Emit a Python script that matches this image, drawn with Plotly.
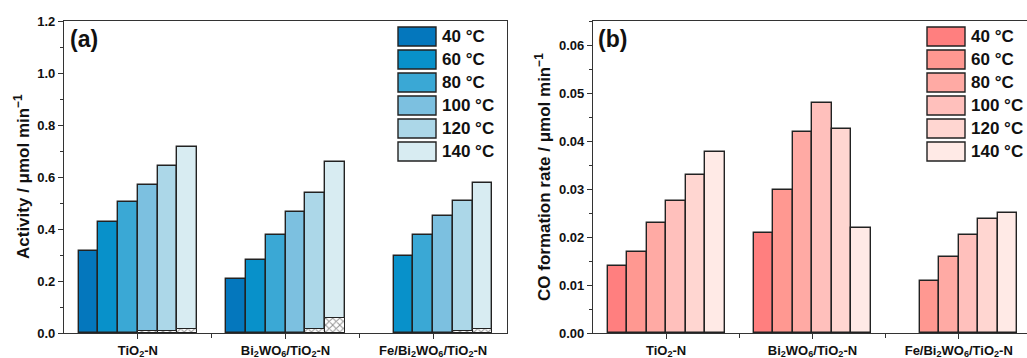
import plotly.graph_objects as go

# ---------------- data ----------------
categories = ["TiO<sub>2</sub>-N", "Bi<sub>2</sub>WO<sub>6</sub>/TiO<sub>2</sub>-N",
              "Fe/Bi<sub>2</sub>WO<sub>6</sub>/TiO<sub>2</sub>-N"]
temperatures = ["40 °C", "60 °C", "80 °C", "100 °C", "120 °C", "140 °C"]

# (a) Activity / umol min-1, per temperature across categories
activity_40 = [0.317, 0.209, None]
activity_60 = [0.428, 0.282, 0.295]
activity_80 = [0.504, 0.377, 0.376]
activity_100 = [0.571, 0.465, 0.449]
activity_120 = [0.644, 0.538, 0.509]
activity_140 = [0.715, 0.658, 0.577]

# (a) hatched (bottom) portions
hatched_100 = [0.006, None, None]
hatched_120 = [0.009, 0.015, 0.008]
hatched_140 = [0.016, 0.058, 0.016]

# (b) CO formation rate / umol min-1
co_40 = [0.0140, 0.0209, None]
co_60 = [0.0168, 0.0297, 0.0109]
co_80 = [0.0229, 0.0418, 0.0158]
co_100 = [0.0276, 0.0479, 0.0204]
co_120 = [0.0329, 0.0424, 0.0238]
co_140 = [0.0378, 0.0219, 0.0249]

activity = [activity_40, activity_60, activity_80, activity_100, activity_120, activity_140]
hatched = [None, None, None, hatched_100, hatched_120, hatched_140]
co_rate = [co_40, co_60, co_80, co_100, co_120, co_140]

blues = ["#0477bd", "#0891ca", "#3aa8d5", "#7cc0e0", "#acd7e8", "#d8ecf2"]
reds = ["#ff7f7f", "#ff9891", "#ffaaa4", "#ffc0bc", "#ffd6d1", "#ffeae6"]

# ---------------- figure ----------------
W, H = 1027, 358
FONT = "Liberation Sans, Arial, sans-serif"
edge = "#222222"
xpos = list(range(len(categories)))
n = len(temperatures)
group = 0.8
bw = group / n

fig = go.Figure()

for i, t in enumerate(temperatures):
    fig.add_trace(go.Bar(
        x=xpos, y=activity[i], width=bw, offset=-group / 2 + i * bw,
        marker=dict(color=blues[i], line=dict(color=edge, width=1.4)),
        name=t, showlegend=False, xaxis="x", yaxis="y"))
for i, t in enumerate(temperatures):
    if hatched[i] is None:
        continue
    fig.add_trace(go.Bar(
        x=xpos, y=hatched[i], width=bw, offset=-group / 2 + i * bw,
        marker=dict(color="white", line=dict(color=edge, width=1.0),
                    pattern=dict(shape="x", fgcolor=edge, bgcolor="white",
                                 size=5, solidity=0.35)),
        showlegend=False, xaxis="x", yaxis="y"))
for i, t in enumerate(temperatures):
    fig.add_trace(go.Bar(
        x=xpos, y=co_rate[i], width=bw, offset=-group / 2 + i * bw,
        marker=dict(color=reds[i], line=dict(color=edge, width=1.4)),
        name=t, showlegend=False, xaxis="x2", yaxis="y2"))

# geometry (pixels)
ax_l, ax_r = 64, 507
bx_l, bx_r = 593, 1027
top, bottom = 21, 333
b_step = 146.3

def px(x):
    return x / W

def py(y):
    return (H - y) / H

common_x = dict(
    showline=True, linecolor="#333", linewidth=1.3, mirror=True, automargin=False,
    ticks="outside", ticklen=5, tickwidth=1.3, tickcolor="#333",
    tickvals=xpos, ticktext=categories, showgrid=False, zeroline=False,
    tickfont=dict(family=FONT, size=13, color="#111", weight="bold"),
    minor=dict(tickvals=[0.5, 1.5], ticks="outside", ticklen=4,
               tickwidth=1.3, tickcolor="#333"),
    ticklabelstandoff=0,
)
common_y = dict(
    showline=True, linecolor="#333", linewidth=1.3, mirror=True, automargin=False,
    ticks="outside", ticklen=5, tickwidth=1.3, tickcolor="#333",
    showgrid=False, zeroline=False,
    tickfont=dict(family=FONT, size=13, color="#111", weight="bold"),
)

fig.update_layout(
    width=W, height=H, margin=dict(l=0, r=0, t=0, b=0, autoexpand=False),
    paper_bgcolor="white", plot_bgcolor="white",
    barmode="overlay", bargap=0,
    xaxis=dict(domain=[px(ax_l), px(ax_r)], range=[-0.5, 2.5], anchor="y", **common_x),
    yaxis=dict(domain=[py(bottom), py(top)], range=[0, 1.2], anchor="x",
               dtick=0.2, tickformat=".1f",
               minor=dict(dtick=0.1, ticks="outside", ticklen=3, tickwidth=1.3, tickcolor="#333"),
               **common_y),
    xaxis2=dict(domain=[px(bx_l), 1.0],
                range=[-0.5, -0.5 + (bx_r - bx_l) / b_step], anchor="y2", **common_x),
    yaxis2=dict(domain=[py(bottom), py(top)], range=[0, 0.065], anchor="x2",
                dtick=0.01, tickformat=".2f",
                minor=dict(dtick=0.005, ticks="outside", ticklen=3, tickwidth=1.3, tickcolor="#333"),
                **common_y),
)

shapes = []
annotations = []
# custom legends
for panel, colors, sx in (("a", blues, 398), ("b", reds, 927)):
    for i, t in enumerate(temperatures):
        y0 = 27 + i * 23
        shapes.append(dict(type="rect", xref="paper", yref="paper",
                           x0=px(sx), x1=px(sx + 38), y0=py(y0 + 19), y1=py(y0),
                           fillcolor=colors[i], line=dict(color=edge, width=1.4)))
        annotations.append(dict(text=t, xref="paper", yref="paper",
                                x=px(sx + 42), y=py(y0 + 9.5), xanchor="left", yanchor="middle",
                                showarrow=False,
                                font=dict(family=FONT, size=17, color="#111", weight="bold")))

# panel labels
annotations.append(dict(text="(a)", xref="paper", yref="paper", x=px(68), y=py(39),
                        xanchor="left", yanchor="middle", showarrow=False,
                        font=dict(family=FONT, size=23, color="#111", weight="bold")))
annotations.append(dict(text="(b)", xref="paper", yref="paper", x=px(596), y=py(39),
                        xanchor="left", yanchor="middle", showarrow=False,
                        font=dict(family=FONT, size=23, color="#111", weight="bold")))
# axis titles
annotations.append(dict(text="Activity / μmol min<sup>−1</sup>", xref="paper", yref="paper",
                        x=px(22), y=py(177), xanchor="center", yanchor="middle",
                        textangle=-90, showarrow=False,
                        font=dict(family=FONT, size=17, color="#111", weight="bold")))
annotations.append(dict(text="CO formation rate / μmol min<sup>−1</sup>", xref="paper", yref="paper",
                        x=px(543), y=py(177), xanchor="center", yanchor="middle",
                        textangle=-90, showarrow=False,
                        font=dict(family=FONT, size=17, color="#111", weight="bold")))

fig.update_layout(shapes=shapes, annotations=annotations)
fig.write_html("out.html")
